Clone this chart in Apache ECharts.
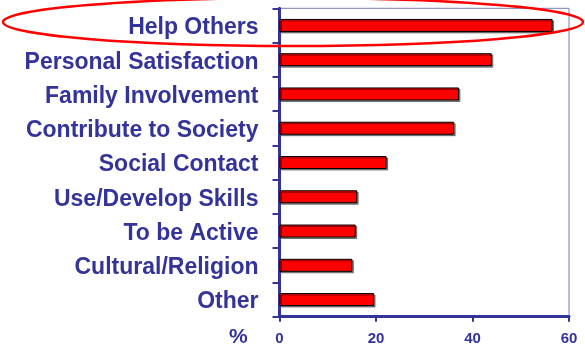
<!DOCTYPE html>
<html>
<head>
<meta charset="utf-8">
<script src="https://cdn.jsdelivr.net/npm/echarts@6/dist/echarts.min.js"></script>
<style>
html,body{margin:0;padding:0;background:#fff;}
#chart{width:585px;height:350px;}
</style>
</head>
<body>
<div id="chart"></div>
<script>
var categories = ["Help Others","Personal Satisfaction","Family Involvement","Contribute to Society","Social Contact","Use/Develop Skills","To be Active","Cultural/Religion","Other"];
var values = [56.6, 44.0, 37.2, 36.2, 22.2, 16.1, 15.8, 15.1, 19.6];
var xTicks = [0, 20, 40, 60];
var axisTitle = "%";
var highlight = "Help Others";

var navy = "#333399";
var chart = echarts.init(document.getElementById('chart'), null, {renderer:'canvas'});
chart.setOption({
  animation:false,
  grid:{left:279.5, right:16, top:8.3, bottom:33.3, show:true, borderColor:'#7a7abf', borderWidth:1},
  xAxis:{
    type:'value', min:xTicks[0], max:xTicks[xTicks.length-1], interval:20,
    axisLine:{show:true, lineStyle:{color:navy, width:3}},
    axisTick:{show:true, length:5, lineStyle:{color:navy, width:2}},
    splitLine:{show:false},
    axisLabel:{color:navy, fontFamily:'Liberation Sans, Arial, sans-serif', fontWeight:'bold', fontSize:15, margin:15}
  },
  yAxis:{
    type:'category', data:categories, inverse:true,
    axisLine:{show:true, lineStyle:{color:navy, width:3}},
    axisTick:{show:true, length:7, lineStyle:{color:navy, width:2}},
    axisLabel:{color:navy, fontFamily:'Liberation Sans, Arial, sans-serif', fontWeight:'bold', fontSize:23, margin:21,
      verticalAlign:'top', lineHeight:5}
  },
  series:[{
    type:'bar', data:values, barWidth:13,
    itemStyle:{color:'#ff0000', borderColor:'#000', borderWidth:1, shadowColor:'rgba(0,0,0,0.45)', shadowOffsetX:1.5, shadowOffsetY:1.5, shadowBlur:0}
  }],
  graphic:[
    {type:'text', left:229, top:327, style:{text:axisTitle, fill:navy, font:'bold 21px Liberation Sans, Arial, sans-serif'}},
    {type:'ellipse', shape:{cx:293, cy:22, rx:290, ry:24}, style:{fill:'none', stroke:'#ff0000', lineWidth:2.5}, z:100}
  ]
});
</script>
</body>
</html>
